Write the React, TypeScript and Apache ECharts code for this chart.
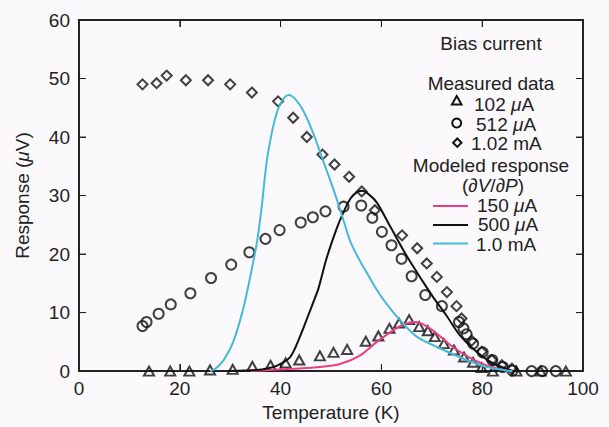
import React, { useEffect, useRef } from "react";
import * as echarts from "echarts";

// Axis ticks
const xTickValues = [0, 20, 40, 60, 80, 100];
const yTickValues = [0, 10, 20, 30, 40, 50, 60];

// Measured data: [temperature K, response µV]
const tri102uA: number[][] = [
  [13.9, 0], [18.1, 0], [21.9, 0], [26.0, 0.2], [30.5, 0.3], [34.4, 0.8], [38.0, 1.0],
  [41.0, 1.4], [43.7, 1.9], [47.8, 2.6], [50.5, 3.2], [53.2, 3.7], [56.9, 5.1], [59.4, 6.0],
  [61.6, 7.3], [63.5, 8.2], [65.5, 8.8], [67.5, 7.6], [69.2, 6.9], [70.6, 5.9], [72.4, 4.7],
  [74.4, 3.6], [76.4, 2.4], [78.2, 1.5], [79.9, 0.6], [82.1, 0], [86.8, 0], [91.6, 0], [96.6, 0],
];
const circ512uA: number[][] = [
  [12.6, 7.7], [13.4, 8.4], [15.8, 9.8], [18.2, 11.4], [22.1, 13.3], [26.2, 15.9], [30.2, 18.2],
  [33.8, 20.3], [37.0, 22.6], [39.8, 24.1], [44.0, 25.4], [46.4, 26.3], [48.9, 27.3], [52.5, 28.1],
  [56.0, 28.3], [58.2, 26.2], [60.1, 23.8], [62.0, 21.5], [64.0, 19.2], [66.0, 16.2], [68.7, 13.0],
  [72.0, 11.1], [75.4, 8.4], [76.3, 7.3], [76.9, 6.3], [78.2, 4.7], [80.1, 3.2], [82.0, 1.9],
  [84.1, 0.7], [86.0, 0.1], [89.8, 0], [91.9, 0], [94.6, 0],
];
const dia102mA: number[][] = [
  [12.6, 49.0], [15.4, 49.2], [17.4, 50.5], [21.2, 49.7], [25.6, 49.7], [30.0, 49.0], [34.3, 47.6],
  [39.5, 46.1], [42.5, 43.3], [45.2, 40.0], [48.3, 37.0], [50.7, 35.3], [53.6, 33.2], [56.1, 30.7],
  [58.7, 27.5], [64.1, 23.2], [67.1, 21.0], [69.0, 18.4], [71.0, 16.1], [73.0, 13.5], [74.9, 11.1],
  [75.9, 9.0], [77.9, 5.2], [79.9, 3.3], [81.9, 1.9], [83.9, 1.0], [85.9, 0.4],
];

// Modeled response (∂V/∂P)
const model150uA: number[][] = [
  [34, 0], [38, 0.2], [42.5, 0.4], [47.8, 0.7], [51.8, 1.2], [55.8, 2.7], [59.1, 5.0], [62.4, 7.0],
  [64.5, 8.0], [66.5, 8.4], [68.3, 8.0], [70.3, 6.9], [73.6, 4.5], [76.9, 2.6], [80.2, 1.2],
  [84.2, 0.2], [86, 0],
];
const model500uA: number[][] = [
  [30, 0], [35.3, 0.2], [37.5, 0.5], [39.2, 0.9], [41.9, 2.4], [43.8, 5.8], [46.5, 11.8],
  [47.5, 14.1], [49.1, 19.2], [51.1, 24.3], [52.4, 27.0], [53.8, 29.4], [55.0, 30.5], [56.1, 30.8],
  [57.5, 30.2], [59.1, 28.8], [61.7, 24.8], [65.0, 19.7], [68.3, 15.2], [70.3, 12.6], [72.9, 9.5],
  [75.6, 6.1], [78.9, 3.3], [82.2, 1.3], [86.2, 0],
];
const model1mA: number[][] = [
  [26, 0], [27.2, 0.5], [28.8, 2.0], [30.6, 5.0], [32.6, 10.7], [34.3, 17.5], [35.3, 22.0],
  [36.2, 27.7], [37.2, 35.5], [38.2, 40.5], [39.2, 44.0], [40.3, 46.2], [41.6, 47.2], [42.8, 46.6],
  [44.5, 44.5], [46.5, 40.6], [48.5, 35.8], [50.5, 31.0], [52.4, 26.0], [53.8, 22.2], [55.5, 19.2],
  [57.1, 16.8], [59.0, 14.0], [61.1, 11.4], [63.7, 8.7], [67.0, 5.9], [71.6, 3.9], [76.9, 1.9],
  [80.9, 0.7], [84.9, 0.1], [86, 0],
];

const FONT = "Liberation Sans, Arial, Helvetica, sans-serif";
const TXT = "#222";
const AX = "#222";
const BG = "#fcf9fc";
const PINK = "#e8407e";
const CYAN = "#45bad8";
const BLACK = "#111";

export default function App() {
  const ref = useRef<HTMLDivElement>(null);
  useEffect(() => {
    if (!ref.current) return;
    const chart = echarts.init(ref.current, undefined, { renderer: "svg" });
    const mkAxis = (extra: any) => ({
      type: "value",
      min: 0,
      axisLine: { show: true, onZero: false, lineStyle: { color: AX, width: 2 } },
      axisTick: { show: true, inside: true, length: 7, lineStyle: { color: AX, width: 1 } },
      splitLine: { show: false },
      ...extra,
    });
    const it = { fontStyle: "italic", fontSize: 19, fontFamily: FONT, color: TXT, lineHeight: 17 };
    const markerStyle = { color: "rgba(0,0,0,0)", borderColor: BLACK, borderWidth: 2 };
    chart.setOption({
      animation: false,
      backgroundColor: BG,
      grid: { left: 79, right: 26, top: 20, bottom: 54 },
      xAxis: [
        mkAxis({
          max: 100,
          interval: 20,
          position: "bottom",
          name: "Temperature (K)",
          nameLocation: "middle",
          nameGap: 31,
          nameTextStyle: { fontSize: 19, fontFamily: FONT, color: TXT },
          axisLabel: { fontSize: 19, fontFamily: FONT, color: TXT, margin: 8 },
        }),
        mkAxis({ max: 100, interval: 20, position: "top", axisLabel: { show: false } }),
      ],
      yAxis: [
        mkAxis({
          max: 60,
          interval: 10,
          position: "left",
          name: "Response ({i|μ}V)",
          nameLocation: "middle",
          nameGap: 47,
          nameRotate: 90,
          nameTextStyle: { fontSize: 19, fontFamily: FONT, color: TXT, rich: { i: it } },
          axisLabel: { fontSize: 19, fontFamily: FONT, color: TXT, margin: 9 },
        }),
        mkAxis({ max: 60, interval: 10, position: "right", axisLabel: { show: false } }),
      ],
      series: [
        { type: "scatter", data: tri102uA, symbol: "triangle", symbolSize: [10, 9], itemStyle: markerStyle },
        { type: "scatter", data: circ512uA, symbol: "circle", symbolSize: 10, itemStyle: markerStyle },
        { type: "scatter", data: dia102mA, symbol: "diamond", symbolSize: [10, 10], itemStyle: markerStyle },
        { type: "line", data: model150uA, smooth: 0.3, showSymbol: false, lineStyle: { color: PINK, width: 2 } },
        { type: "line", data: model500uA, smooth: 0.3, showSymbol: false, lineStyle: { color: BLACK, width: 2 } },
        { type: "line", data: model1mA, smooth: 0.3, showSymbol: false, lineStyle: { color: CYAN, width: 2 } },
      ],
    });

    // Frame and inward ticks placed through the chart's own scales
    const px = (x: number, y: number) =>
      chart.convertToPixel({ xAxisIndex: 0, yAxisIndex: 0 }, [x, y]) as number[];
    const [x0, y0] = px(0, 0);
    const [x1, y1] = px(100, 60);
    const tickStroke = { stroke: AX, lineWidth: 1 };
    const frame: any[] = [
      {
        type: "rect",
        shape: { x: x0, y: y1, width: x1 - x0, height: y0 - y1 },
        style: { fill: "none", stroke: AX, lineWidth: 2 },
        silent: true,
      },
    ];
    xTickValues.forEach((t) => {
      const [tx] = px(t, 0);
      frame.push({ type: "line", shape: { x1: tx, y1: y0, x2: tx, y2: y0 - 7 }, style: tickStroke });
      frame.push({ type: "line", shape: { x1: tx, y1: y1, x2: tx, y2: y1 + 7 }, style: tickStroke });
    });
    yTickValues.forEach((v) => {
      const [, ty] = px(0, v);
      frame.push({ type: "line", shape: { x1: x0, y1: ty, x2: x0 + 7, y2: ty }, style: tickStroke });
      frame.push({ type: "line", shape: { x1: x1, y1: ty, x2: x1 - 7, y2: ty }, style: tickStroke });
    });

    const txt = (x: number, y: number, text: string, align = "center") => ({
      type: "text",
      x,
      y,
      style: {
        text,
        fontSize: 19,
        lineHeight: 17,
        fontFamily: FONT,
        fill: TXT,
        align,
        verticalAlign: "middle",
        rich: { i: it },
      },
    });
    const lineIcon = (y: number, color: string) => ({
      type: "line",
      shape: { x1: 433, y1: y, x2: 468, y2: y },
      style: { stroke: color, lineWidth: 2 },
    });
    const markStyle = { fill: "none", stroke: BLACK, lineWidth: 2 };
    const legend: any[] = [
      txt(491, 43, "Bias current"),
      txt(491, 83, "Measured data"),
      {
        type: "polygon",
        shape: { points: [[456.7, 96], [461.5, 104.5], [451.9, 104.5]] },
        style: markStyle,
      },
      txt(474, 104, "102 {i|μ}A", "left"),
      { type: "circle", shape: { cx: 456.7, cy: 123, r: 4.5 }, style: markStyle },
      txt(476, 124, "512 {i|μ}A", "left"),
      {
        type: "polygon",
        shape: { points: [[457.3, 138.5], [461.5, 142.7], [457.3, 146.9], [453.1, 142.7]] },
        style: markStyle,
      },
      txt(471, 143, "1.02 mA", "left"),
      txt(491, 165, "Modeled response"),
      txt(493, 185, "(∂{i|V}/∂{i|P})"),
      lineIcon(206, PINK),
      txt(477, 205, "150 {i|μ}A", "left"),
      lineIcon(225, BLACK),
      txt(478, 224.5, "500 {i|μ}A", "left"),
      lineIcon(243.5, CYAN),
      txt(476, 244, "1.0 mA", "left"),
    ];
    chart.setOption({ graphic: [...frame, ...legend] });
    return () => chart.dispose();
  }, []);
  return (
    <div
      ref={ref}
      style={{ position: "fixed", left: 0, top: 0, width: 609, height: 427 }}
    />
  );
}
